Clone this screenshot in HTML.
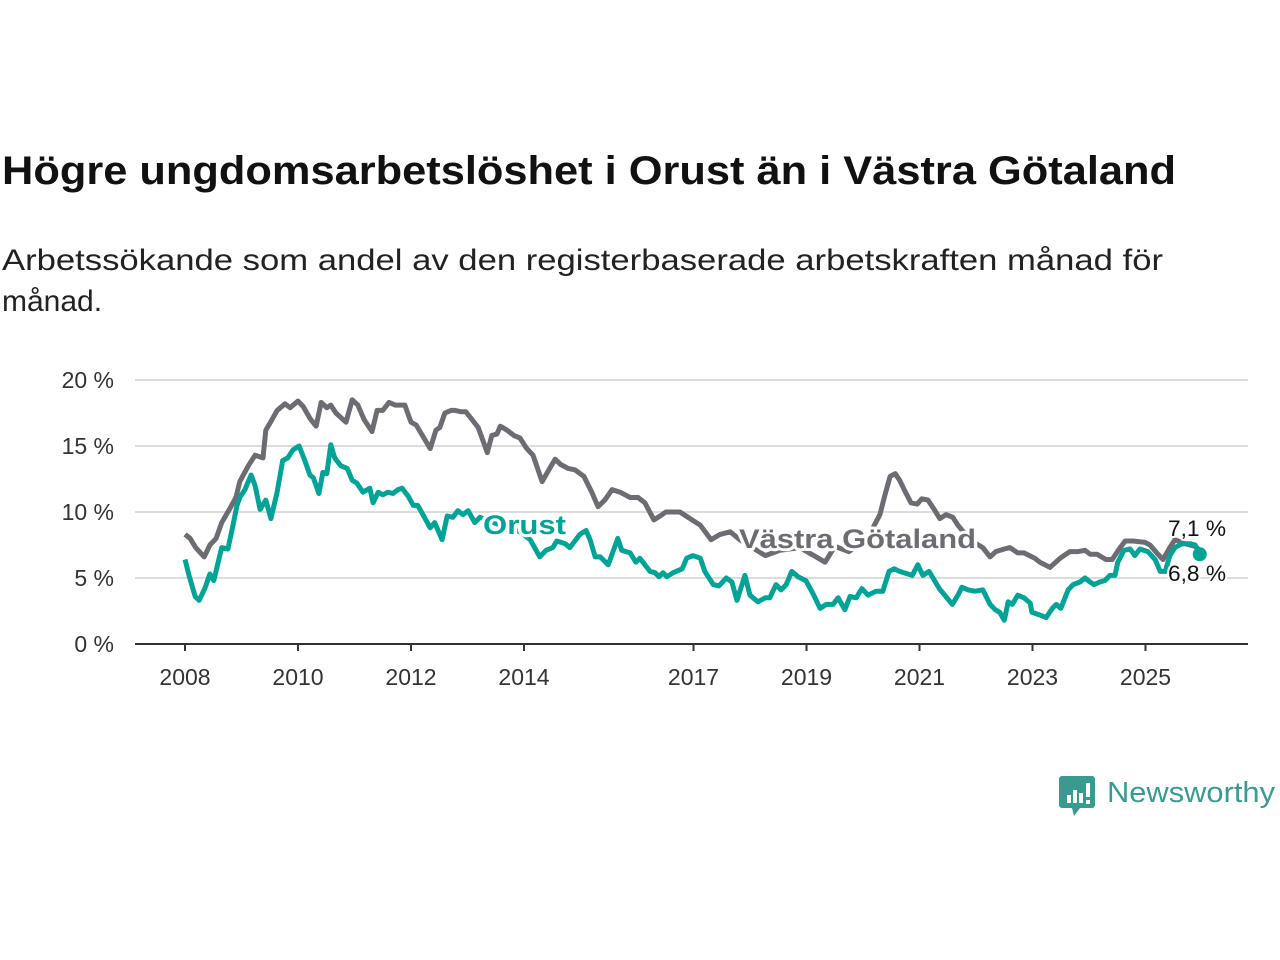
<!DOCTYPE html>
<html><head><meta charset="utf-8"><style>
html,body{margin:0;padding:0;background:#fff;}
svg{display:block;font-family:"Liberation Sans",sans-serif;}
</style></head><body>
<svg id="chart" width="1280" height="960" viewBox="0 0 1280 960" xmlns="http://www.w3.org/2000/svg">
<text x="2" y="184" font-size="40" font-weight="bold" fill="#111" textLength="1174" lengthAdjust="spacingAndGlyphs">Högre ungdomsarbetslöshet i Orust än i Västra Götaland</text>
<text x="2" y="270" font-size="30" fill="#222" textLength="1161" lengthAdjust="spacingAndGlyphs">Arbetssökande som andel av den registerbaserade arbetskraften månad för</text>
<text x="2" y="311" font-size="30" fill="#222">månad.</text>
<g id="grid"></g>
<g id="series"></g>
<g id="labels"></g>
<g>
<path d="M1062 776 h30 a3 3 0 0 1 3 3 v26 a3 3 0 0 1 -3 3 h-12 l-6 8 l-2 -8 h-10 a3 3 0 0 1 -3 -3 v-26 a3 3 0 0 1 3 -3z" fill="#3a9a8f"/>
<rect x="1067" y="795" width="4" height="8" fill="#fff"/><rect x="1073" y="790" width="4" height="13" fill="#fff"/><rect x="1079" y="793" width="4" height="10" fill="#fff"/><rect x="1086" y="783" width="4" height="14" fill="#fff"/><rect x="1086" y="800" width="4" height="4" fill="#fff"/>
<text x="1107" y="802" font-size="29" fill="#3a9a8f" textLength="168" lengthAdjust="spacingAndGlyphs">Newsworthy</text>
</g>
</svg>
<script>
const yTicks = [0, 5, 10, 15, 20];
const yTickLabels = ["0 %", "5 %", "10 %", "15 %", "20 %"];
const xTicks = [2008, 2010, 2012, 2014, 2017, 2019, 2021, 2023, 2025];
const vgDates = [2008.00,2008.09,2008.19,2008.34,2008.44,2008.55,2008.65,2008.80,2008.90,2008.97,2009.12,2009.24,2009.38,2009.43,2009.54,2009.63,2009.77,2009.86,2010.00,2010.09,2010.21,2010.32,2010.41,2010.51,2010.58,2010.67,2010.85,2010.96,2011.06,2011.17,2011.31,2011.40,2011.50,2011.61,2011.72,2011.89,2012.00,2012.09,2012.34,2012.44,2012.51,2012.60,2012.71,2012.78,2012.88,2012.97,2013.08,2013.19,2013.35,2013.43,2013.52,2013.58,2013.70,2013.82,2013.93,2014.05,2014.16,2014.32,2014.44,2014.55,2014.65,2014.78,2014.90,2015.06,2015.20,2015.31,2015.43,2015.56,2015.70,2015.88,2016.02,2016.14,2016.30,2016.41,2016.51,2016.76,2016.94,2017.12,2017.31,2017.47,2017.65,2017.82,2018.27,2018.53,2018.88,2019.13,2019.33,2019.50,2019.75,2020.10,2020.20,2020.30,2020.39,2020.48,2020.57,2020.65,2020.74,2020.85,2020.96,2021.04,2021.15,2021.26,2021.36,2021.47,2021.59,2021.68,2021.89,2022.12,2022.25,2022.35,2022.50,2022.60,2022.74,2022.85,2023.04,2023.13,2023.31,2023.49,2023.66,2023.81,2023.93,2024.02,2024.14,2024.30,2024.41,2024.55,2024.64,2024.78,2024.99,2025.08,2025.20,2025.31,2025.43,2025.52,2025.70,2025.88,2025.96];
const vgValues = [8.3,8.0,7.3,6.6,7.5,8.0,9.2,10.3,11.1,12.3,13.5,14.3,14.1,16.2,17.0,17.7,18.2,17.9,18.4,18.0,17.1,16.5,18.3,17.9,18.1,17.5,16.8,18.5,18.1,17.0,16.1,17.7,17.7,18.3,18.1,18.1,16.8,16.6,14.8,16.2,16.4,17.5,17.7,17.7,17.6,17.6,17.0,16.4,14.5,15.8,15.9,16.5,16.2,15.8,15.6,14.8,14.3,12.3,13.2,14.0,13.6,13.3,13.2,12.7,11.5,10.4,10.9,11.7,11.5,11.1,11.1,10.7,9.4,9.7,10.0,10.0,9.5,9.0,7.9,8.3,8.5,7.9,6.7,7.1,7.3,6.7,6.2,7.4,7.0,8.0,9.0,9.8,11.3,12.7,12.9,12.4,11.6,10.7,10.6,11.0,10.9,10.2,9.5,9.8,9.6,9.0,7.9,7.3,6.6,7.0,7.2,7.3,6.9,6.9,6.5,6.2,5.8,6.5,7.0,7.0,7.1,6.8,6.8,6.4,6.4,7.3,7.8,7.8,7.7,7.5,6.9,6.4,7.3,7.9,7.6,7.4,7.1];
const orDates = [2008.00,2008.07,2008.18,2008.25,2008.35,2008.44,2008.51,2008.65,2008.76,2008.83,2008.92,2008.97,2009.06,2009.17,2009.24,2009.33,2009.43,2009.52,2009.63,2009.73,2009.82,2009.91,2010.02,2010.12,2010.21,2010.27,2010.37,2010.44,2010.51,2010.58,2010.65,2010.76,2010.87,2010.96,2011.04,2011.15,2011.27,2011.33,2011.42,2011.50,2011.59,2011.68,2011.77,2011.84,2011.95,2012.04,2012.12,2012.34,2012.42,2012.55,2012.64,2012.74,2012.83,2012.92,2013.01,2013.13,2013.22,2013.58,2013.93,2014.11,2014.28,2014.39,2014.51,2014.58,2014.73,2014.81,2014.99,2015.10,2015.17,2015.26,2015.35,2015.49,2015.66,2015.73,2015.88,2015.98,2016.05,2016.23,2016.32,2016.39,2016.46,2016.53,2016.64,2016.80,2016.88,2016.99,2017.12,2017.20,2017.35,2017.45,2017.58,2017.68,2017.77,2017.91,2018.00,2018.14,2018.27,2018.35,2018.46,2018.55,2018.64,2018.74,2018.85,2018.99,2019.13,2019.24,2019.35,2019.47,2019.56,2019.68,2019.77,2019.88,2019.98,2020.09,2020.23,2020.35,2020.46,2020.55,2020.65,2020.87,2020.97,2021.06,2021.17,2021.35,2021.58,2021.68,2021.75,2021.86,2021.98,2022.12,2022.25,2022.34,2022.42,2022.50,2022.57,2022.64,2022.74,2022.85,2022.96,2022.99,2023.13,2023.24,2023.35,2023.42,2023.50,2023.63,2023.72,2023.84,2023.93,2024.02,2024.09,2024.19,2024.28,2024.37,2024.46,2024.51,2024.62,2024.73,2024.81,2024.90,2025.04,2025.17,2025.26,2025.35,2025.43,2025.52,2025.65,2025.79,2025.88,2025.96];
const orValues = [6.4,5.2,3.6,3.3,4.2,5.3,4.8,7.3,7.2,8.6,10.5,11.1,11.7,12.8,12.0,10.2,10.9,9.5,11.5,13.9,14.1,14.7,15.0,13.9,12.8,12.6,11.4,13.0,12.9,15.1,14.1,13.5,13.3,12.4,12.2,11.5,11.8,10.7,11.5,11.3,11.5,11.4,11.7,11.8,11.2,10.5,10.5,8.8,9.2,7.9,9.7,9.6,10.1,9.8,10.1,9.2,9.6,9.0,8.5,7.9,6.6,7.1,7.3,7.8,7.6,7.3,8.3,8.6,7.9,6.6,6.6,6.0,8.0,7.1,6.9,6.2,6.5,5.5,5.4,5.1,5.4,5.1,5.4,5.7,6.5,6.7,6.5,5.5,4.5,4.4,5.0,4.7,3.3,5.2,3.7,3.2,3.5,3.5,4.5,4.1,4.5,5.5,5.1,4.8,3.7,2.7,3.0,3.0,3.5,2.6,3.6,3.5,4.2,3.7,4.0,4.0,5.5,5.7,5.5,5.2,6.0,5.2,5.5,4.2,3.0,3.7,4.3,4.1,4.0,4.1,3.0,2.6,2.4,1.8,3.2,3.0,3.7,3.5,3.1,2.4,2.2,2.0,2.7,3.0,2.7,4.1,4.5,4.7,5.0,4.7,4.5,4.7,4.8,5.2,5.2,6.2,7.1,7.2,6.7,7.2,7.0,6.4,5.5,5.5,6.7,7.3,7.6,7.6,7.5,6.8];

const NS = "http://www.w3.org/2000/svg";
const plotLeft = 135, plotRight = 1248, plotTop = 380, plotBottom = 644;
const xScale = d => 185 + (d - 2008) * 56.5;
const yScale = v => plotBottom - (v / 20) * (plotBottom - plotTop);
function mk(tag, attrs, parent) { const e = document.createElementNS(NS, tag); for (const k in attrs) e.setAttribute(k, attrs[k]); parent.appendChild(e); return e; }
const grid = document.getElementById('grid');
yTicks.forEach((t, i) => {
  if (t > 0) {
    const l = mk('line', {x1: plotLeft, x2: plotRight, y1: yScale(t), y2: yScale(t), stroke: '#dcdcdc', 'stroke-width': 2}, grid);
    
    
  }
  const tx = mk('text', {x: 114, y: yScale(t) + 8, 'text-anchor': 'end', 'font-size': 23, fill: '#333'}, grid);
  tx.textContent = yTickLabels[i];
  
  
});
const ax = mk('line', {x1: plotLeft, x2: plotRight, y1: plotBottom, y2: plotBottom, stroke: '#333', 'stroke-width': 2}, grid);


xTicks.forEach(t => {
  const tk = mk('line', {x1: xScale(t), x2: xScale(t), y1: plotBottom, y2: plotBottom + 7, stroke: '#333', 'stroke-width': 2}, grid);
  
  
  const tx = mk('text', {x: xScale(t), y: 685, 'text-anchor': 'middle', 'font-size': 23, fill: '#333'}, grid);
  tx.textContent = String(t);
  
  
});
const series = document.getElementById('series');
function path(dates, vals) { return dates.map((d, i) => (i ? 'L' : 'M') + xScale(d).toFixed(1) + ' ' + yScale(vals[i]).toFixed(1)).join(' '); }
const pv = mk('path', {d: path(vgDates, vgValues), fill: 'none', stroke: '#6d6c72', 'stroke-width': 5, 'stroke-linejoin': 'round'}, series);


const po = mk('path', {d: path(orDates, orValues), fill: 'none', stroke: '#00a396', 'stroke-width': 5, 'stroke-linejoin': 'round'}, series);


const n = orDates.length - 1;
const dot = mk('circle', {cx: xScale(orDates[n]), cy: yScale(orValues[n]), r: 7, fill: '#00a396'}, series);


const labels = document.getElementById('labels');
function lab(x, y, txt, fill, size, bold, name, w) {
  const t = mk('text', {x: x, y: y, 'font-size': size, fill: fill, 'font-weight': bold ? 'bold' : 'normal', stroke: '#fff', 'stroke-width': bold ? 6 : 4, 'paint-order': 'stroke', 'stroke-linejoin': 'round'}, labels);
  if (w) { t.setAttribute('textLength', w); t.setAttribute('lengthAdjust', 'spacingAndGlyphs'); }
  t.textContent = txt;
  
  
}
lab(483, 534, 'Orust', '#00a396', 27, true, 'orust-label', 83);
lab(739, 548, 'Västra Götaland', '#6d6c72', 27, true, 'vastra-gotaland-label', 237);
lab(1168, 536, '7,1 %', '#111', 22, false, 'vastra-gotaland-end-value', 58);
lab(1168, 581, '6,8 %', '#111', 22, false, 'orust-end-value', 58);
</script>
</body></html>
